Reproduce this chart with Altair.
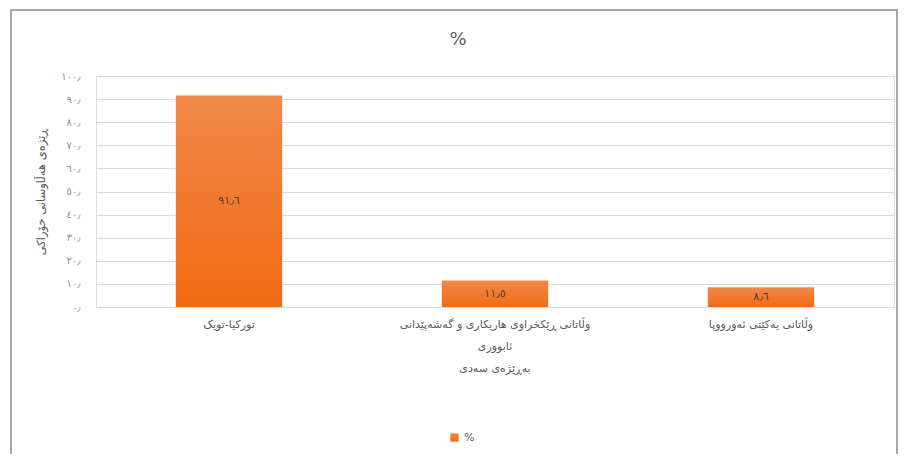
import altair as alt
import pandas as pd

# ---- data ----
categories = [
    "تورکیا-تویک",
    "وڵاتانی ڕێکخراوی هاریکاری و گەشەپێدانی|ئابووری|بەڕێژەی سەدی",
    "وڵاتانی یەکێتی ئەورووپا",
]
values = [91.6, 11.5, 8.6]
value_labels = ["٩١٫٦", "١١٫٥", "٨٫٦"]
series_name = "%"
y_ticks = [0, 10, 20, 30, 40, 50, 60, 70, 80, 90, 100]
y_tick_labels = ["٠٫", "١٠٫", "٢٠٫", "٣٠٫", "٤٠٫", "٥٠٫", "٦٠٫", "٧٠٫", "٨٠٫", "٩٠٫", "١٠٠٫"]
y_title = "ڕێژەی هەڵاوسانی خۆراکی"
chart_title = "%"

df = pd.DataFrame({
    "cat": categories,
    "value": values,
    "label": value_labels,
    "series": [series_name] * len(categories),
})

FONT = "DejaVu Sans"
GRAY = "#595959"
ORANGE = "#F2711C"

label_js = "[" + ",".join("'" + s + "'" for s in y_tick_labels) + "]"

x_axis = alt.Axis(
    labelAngle=0,
    labelExpr="split(datum.label, '|')",
    labelFont=FONT,
    labelFontSize=11,
    labelColor=GRAY,
    labelPadding=17,
    labelLimit=0,
    labelLineHeight=22,
    labelBaseline="middle",
    ticks=False,
    domainColor="#d9d9d9",
    grid=False,
)
x_scale = alt.Scale(paddingInner=0.6, paddingOuter=0.3)

y_axis = alt.Axis(
    values=y_ticks,
    labelExpr=label_js + "[round(datum.value / 10)]",
    labelFont=FONT,
    labelFontSize=10,
    labelColor="#8f8f8f",
    labelPadding=16,
    labelOverlap=False,
    ticks=False,
    domain=False,
    grid=True,
    gridColor="#d9d9d9",
    titleFont=FONT,
    titleFontSize=11.5,
    titleFontWeight="normal",
    titleColor=GRAY,
    titlePadding=14,
)
y_scale = alt.Scale(domain=[0, 100], nice=False)

bars = alt.Chart(df).mark_bar(
    color=alt.Gradient(
        gradient="linear",
        stops=[alt.GradientStop(color="#F0894A", offset=0),
               alt.GradientStop(color="#F36A12", offset=1)],
        x1=0, x2=0, y1=0, y2=1,
    )
).encode(
    x=alt.X("cat:N", sort=categories, title=None, scale=x_scale, axis=x_axis),
    y=alt.Y("value:Q", title=y_title, scale=y_scale, axis=y_axis),
    opacity=alt.Opacity(
        "series:N",
        scale=alt.Scale(range=[1]),
        legend=alt.Legend(
            title=None,
            orient="none",
            legendX=353,
            legendY=356,
            symbolType="square",
            symbolFillColor=ORANGE,
            symbolStrokeWidth=0,
            symbolSize=70,
            labelFont=FONT,
            labelFontSize=11,
            labelColor=GRAY,
        ),
    ),
)

texts = alt.Chart(df).transform_calculate(
    mid="datum.value / 2"
).mark_text(font=FONT, fontSize=11, color="#404040").encode(
    x=alt.X("cat:N", sort=categories, title=None, scale=x_scale, axis=x_axis),
    y=alt.Y("mid:Q", title=y_title, scale=y_scale, axis=y_axis),
    text="label:N",
)

frame = alt.Chart(pd.DataFrame({"a": [0]})).mark_rect(
    fill=None, stroke="#8c8c8c", strokeWidth=1.5
).encode(
    x=alt.value(-85), x2=alt.value(801),
    y=alt.value(-66), y2=alt.value(385),
)

chart = alt.layer(frame, bars, texts).properties(
    width=798,
    height=231,
    title=alt.TitleParams(
        chart_title, font=FONT, fontSize=18, fontWeight="normal",
        color=GRAY, offset=-40, anchor="middle", dx=-37,
    ),
    autosize=alt.AutoSizeParams(type="none"),
    padding={"left": 88, "top": 68, "right": 6, "bottom": 147},
).configure_view(stroke=None).configure(background="white")

chart.save("out.html", embed_options={"renderer": "svg", "actions": False})
